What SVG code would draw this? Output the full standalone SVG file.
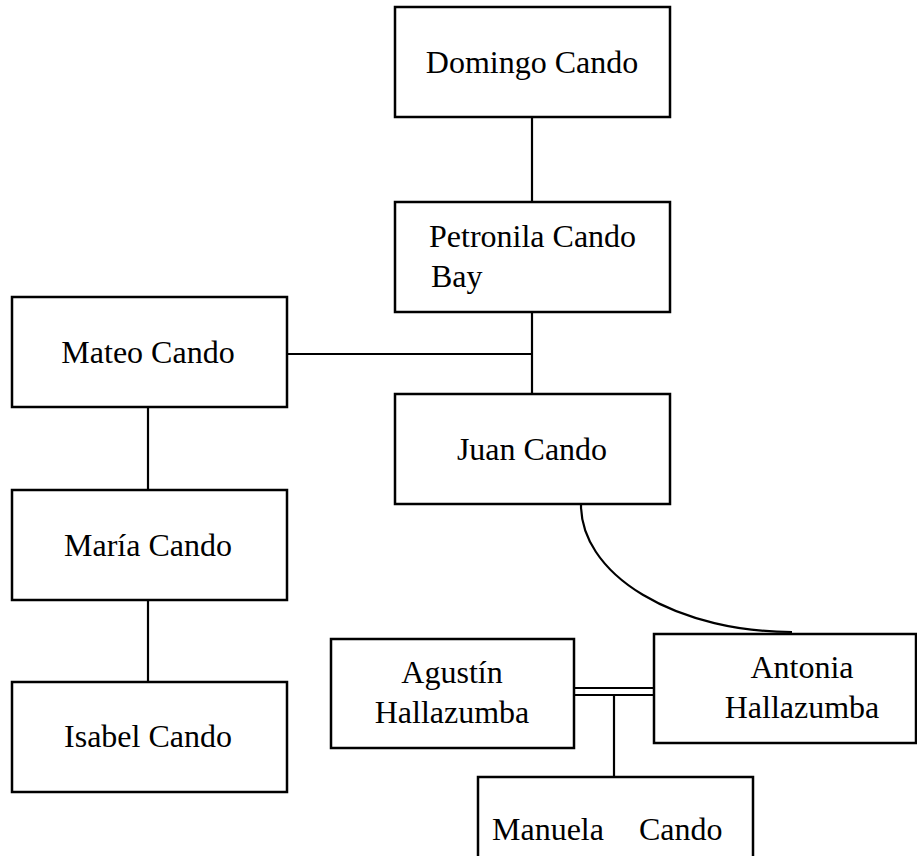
<svg xmlns="http://www.w3.org/2000/svg" width="917" height="856" viewBox="0 0 917 856">
<style>
.box{fill:#fff;stroke:#000;stroke-width:2.5}
.ln{fill:none;stroke:#000;stroke-width:2.2}
.t{font-family:'Liberation Serif','Times New Roman',serif;font-size:32px;fill:#000}
.c{text-anchor:middle}
</style>
<rect width="917" height="856" fill="#fff"/>
<g id="connectors">
<line class="ln" x1="532" y1="117" x2="532" y2="202"/>
<line class="ln" x1="532" y1="312" x2="532" y2="394"/>
<line class="ln" x1="287" y1="354" x2="532" y2="354"/>
<line class="ln" x1="148" y1="407" x2="148" y2="490"/>
<line class="ln" x1="148" y1="600" x2="148" y2="682"/>
<path class="ln" d="M581,505 A211,127 0 0 0 792,632"/>
<line class="ln" x1="574" y1="688" x2="654" y2="688"/>
<line class="ln" x1="574" y1="695" x2="654" y2="695"/>
<line class="ln" x1="614" y1="695" x2="614" y2="777"/>
</g>
<g id="domingo"><rect class="box" x="395" y="7" width="275" height="110"/><text class="t c" x="532" y="73">Domingo Cando</text></g>
<g id="petronila"><rect class="box" x="395" y="202" width="275" height="110"/><text class="t" x="429" y="247">Petronila Cando</text><text class="t" x="431" y="287">Bay</text></g>
<g id="mateo"><rect class="box" x="12" y="297" width="275" height="110"/><text class="t c" x="148" y="363">Mateo Cando</text></g>
<g id="juan"><rect class="box" x="395" y="394" width="275" height="110"/><text class="t c" x="532" y="460">Juan Cando</text></g>
<g id="maria"><rect class="box" x="12" y="490" width="275" height="110"/><text class="t c" x="148" y="556">María Cando</text></g>
<g id="isabel"><rect class="box" x="12" y="682" width="275" height="110"/><text class="t c" x="148" y="747">Isabel Cando</text></g>
<g id="agustin"><rect class="box" x="331" y="639" width="243" height="109"/><text class="t c" x="452" y="683">Agustín</text><text class="t c" x="452" y="723">Hallazumba</text></g>
<g id="antonia"><rect class="box" x="654" y="634" width="262" height="109"/><text class="t c" x="802" y="678">Antonia</text><text class="t c" x="802" y="718">Hallazumba</text></g>
<g id="manuela"><rect class="box" x="478" y="777" width="275" height="100"/><text class="t" x="492" y="840">Manuela</text><text class="t" x="639" y="840">Cando</text></g>
</svg>
